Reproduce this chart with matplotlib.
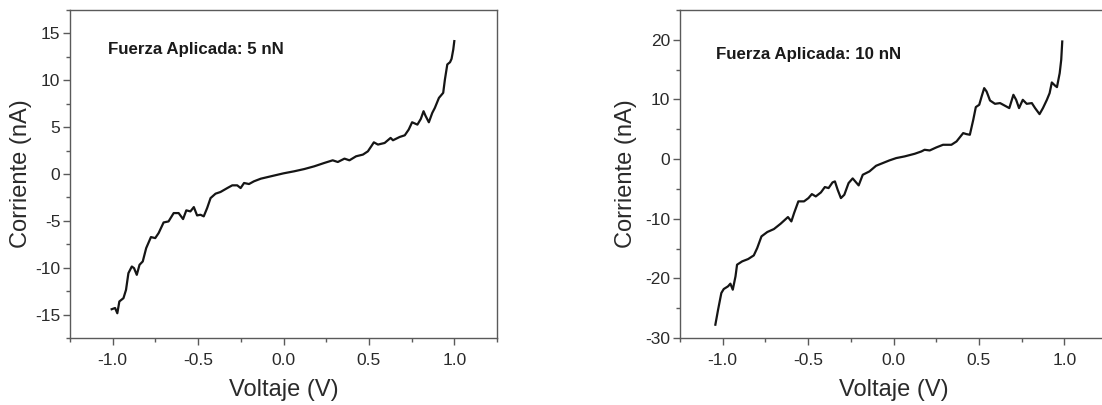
import matplotlib
matplotlib.use("Agg")
import matplotlib.pyplot as plt
from matplotlib.ticker import MultipleLocator

plt.rcParams['font.family'] = ['Liberation Sans', 'DejaVu Sans']

# ---- data: 5 nN ----
v5 = [-1.006, -0.986, -0.973, -0.961, -0.937, -0.922, -0.908, -0.888, -0.875, -0.859,
      -0.843, -0.824, -0.804, -0.776, -0.751, -0.731, -0.702, -0.673, -0.643, -0.614,
      -0.588, -0.569, -0.545, -0.525, -0.506, -0.486, -0.467, -0.447, -0.427, -0.398,
      -0.369, -0.329, -0.300, -0.271, -0.251, -0.231, -0.202, -0.173, -0.133, -0.075,
      0.000, 0.063, 0.122, 0.180, 0.239, 0.288, 0.318, 0.357, 0.386, 0.425,
      0.465, 0.494, 0.514, 0.529, 0.553, 0.592, 0.627, 0.641, 0.680, 0.710,
      0.733, 0.753, 0.784, 0.804, 0.820, 0.831, 0.851, 0.871, 0.886, 0.910,
      0.935, 0.945, 0.959, 0.975, 0.984, 0.994, 1.000]
i5 = [-14.43, -14.30, -14.86, -13.60, -13.25, -12.36, -10.58, -9.87, -10.05, -10.76,
      -9.69, -9.33, -7.91, -6.73, -6.84, -6.30, -5.17, -5.06, -4.17, -4.17,
      -4.81, -3.88, -3.99, -3.53, -4.42, -4.35, -4.52, -3.63, -2.57, -2.10,
      -1.92, -1.50, -1.21, -1.21, -1.50, -0.96, -1.07, -0.78, -0.50, -0.25,
      0.07, 0.29, 0.53, 0.82, 1.18, 1.46, 1.28, 1.64, 1.46, 1.89,
      2.07, 2.42, 2.96, 3.38, 3.14, 3.31, 3.85, 3.60, 3.95, 4.13,
      4.74, 5.52, 5.27, 5.88, 6.70, 6.23, 5.52, 6.52, 7.05, 8.12,
      8.66, 10.08, 11.69, 11.93, 12.29, 13.29, 14.18]

# ---- data: 10 nN ----
v10 = [-1.043, -1.027, -1.008, -0.994, -0.969, -0.955, -0.941, -0.925, -0.916, -0.886,
       -0.851, -0.818, -0.798, -0.773, -0.739, -0.700, -0.661, -0.631, -0.618, -0.598,
       -0.582, -0.557, -0.524, -0.498, -0.478, -0.455, -0.425, -0.402, -0.380, -0.357,
       -0.343, -0.327, -0.308, -0.288, -0.263, -0.239, -0.224, -0.204, -0.180, -0.141,
       -0.102, -0.063, -0.024, 0.016, 0.065, 0.124, 0.163, 0.182, 0.212, 0.251,
       0.290, 0.339, 0.369, 0.408, 0.427, 0.447, 0.467, 0.482, 0.502, 0.516,
       0.531, 0.545, 0.565, 0.594, 0.624, 0.653, 0.678, 0.702, 0.718, 0.735,
       0.757, 0.780, 0.810, 0.829, 0.855, 0.875, 0.898, 0.914, 0.927, 0.947,
       0.957, 0.973, 0.982, 0.988]
i10 = [-27.77, -25.25, -22.46, -21.79, -21.34, -20.89, -21.90, -19.66, -17.71, -17.15,
       -16.76, -16.15, -14.92, -12.96, -12.23, -11.73, -10.84, -10.06, -9.72, -10.45,
       -9.05, -7.09, -7.09, -6.54, -5.87, -6.26, -5.59, -4.69, -4.86, -3.91,
       -3.74, -5.14, -6.54, -5.98, -4.02, -3.24, -3.74, -4.41, -2.63, -2.07,
       -1.12, -0.67, -0.22, 0.17, 0.45, 0.89, 1.28, 1.56, 1.45, 1.96,
       2.40, 2.40, 2.96, 4.36, 4.19, 4.08, 6.59, 8.72, 9.11, 10.50,
       11.90, 11.34, 9.83, 9.27, 9.39, 8.94, 8.55, 10.78, 9.94, 8.55,
       9.94, 9.27, 9.39, 8.55, 7.54, 8.55, 9.94, 11.06, 12.85, 12.29,
       12.07, 14.41, 16.65, 19.72]

xticks = [-1.0, -0.5, 0.0, 0.5, 1.0]
yticks5 = [-15, -10, -5, 0, 5, 10, 15]
yticks10 = [-30, -20, -10, 0, 10, 20]
xlabel = "Voltaje (V)"
ylabel = "Corriente (nA)"
notes = ["Fuerza Aplicada: 5 nN", "Fuerza Aplicada: 10 nN"]

W, H = 1102, 405
fig = plt.figure(figsize=(W / 100, H / 100), dpi=100)

spine_col = '#5a5a5a'
text_col = '#2a2a2a'

def make_ax(x0, x1, y0, y1, xv, yv, yt, ylim, ymin_step, note, note_pos, ylab_x):
    ax = fig.add_axes([x0 / W, 1 - y1 / H, (x1 - x0) / W, (y1 - y0) / H])
    ax.plot(xv, yv, color='#151515', lw=1.6, solid_joinstyle='round')
    ax.set_xlim(-1.25, 1.25)
    ax.set_ylim(*ylim)
    ax.set_xticks(xticks)
    ax.set_xticklabels([f"{t:.1f}" for t in xticks])
    ax.set_yticks(yt)
    ax.set_yticklabels([str(t) for t in yt])
    ax.xaxis.set_minor_locator(MultipleLocator(0.25))
    ax.yaxis.set_minor_locator(MultipleLocator(ymin_step))
    for s in ax.spines.values():
        s.set_color(spine_col)
        s.set_linewidth(1.0)
    ax.tick_params(which='both', direction='out', color=spine_col, width=1.0,
                   top=False, right=False)
    ax.tick_params(which='major', length=5, labelsize=12.5, labelcolor=text_col)
    ax.tick_params(which='minor', length=3)
    ax.tick_params(axis='x', which='major', pad=6)
    ax.tick_params(axis='y', which='major', pad=2)
    ax.set_xlabel(xlabel, fontsize=17, color=text_col)
    ax.set_ylabel(ylabel, fontsize=17, color=text_col)
    ax.xaxis.set_label_coords(0.5, -0.125)
    ax.yaxis.set_label_coords(ylab_x, 0.5)
    ax.text(note_pos[0], note_pos[1], note, transform=ax.transAxes,
            fontsize=12.2, fontweight='bold', color='#1a1a1a', va='baseline', ha='left')
    return ax

make_ax(70, 497, 10, 338, v5, i5, yticks5, (-17.5, 17.5), 2.5, notes[0],
        (0.089, 0.865), -0.09)
make_ax(680, 1107, 10, 338, v10, i10, yticks10, (-30, 25), 5, notes[1],
        (0.084, 0.85), -0.1)

fig.savefig("out.png", dpi=100)
